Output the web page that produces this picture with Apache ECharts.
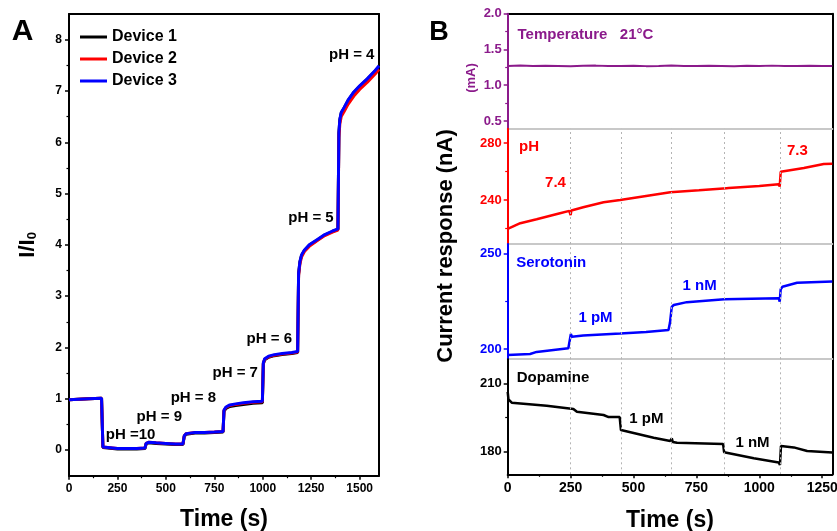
<!DOCTYPE html>
<html><head><meta charset="utf-8">
<script src="https://cdn.jsdelivr.net/npm/echarts@6/dist/echarts.min.js"></script>
<style>html,body{margin:0;padding:0;background:#fff}#c{width:837px;height:531px}</style>
</head><body><div id="c"></div>
<script>
const FONT = '"Liberation Sans", Arial, Helvetica, sans-serif';

// ---------- Panel A data ----------
const timeA = [0,100,168,175,185,250,300,350,392,398,410,450,500,550,588,595,605,650,700,750,795,800,810,830,860,900,950,998,1003,1010,1030,1060,1100,1150,1180,1185,1192,1200,1215,1240,1280,1320,1360,1388,1393,1398,1405,1420,1440,1470,1500,1540,1580,1600];
const device1 = [0.98,1.0,1.01,0.05,0.03, 0.02,0.02,0.02,0.03,0.12, 0.14,0.13,0.12,0.11,0.11, 0.27,0.31,0.33,0.33,0.34, 0.35,0.76,0.81,0.85,0.87, 0.89,0.91,0.92,1.68,1.76, 1.81,1.84,1.86,1.88,1.90, 3.43,3.67,3.79,3.89,3.99, 4.09,4.19,4.26,4.30,6.18, 6.44,6.57,6.67,6.81,6.97, 7.09,7.23,7.39,7.47];
const device2 = [0.98,1.0,1.01,0.06,0.04, 0.03,0.03,0.03,0.04,0.13, 0.15,0.14,0.13,0.12,0.12, 0.28,0.32,0.34,0.34,0.35, 0.36,0.77,0.83,0.87,0.89, 0.91,0.93,0.94,1.69,1.77, 1.82,1.85,1.87,1.89,1.91, 3.40,3.63,3.76,3.87,3.97, 4.08,4.18,4.25,4.29,6.10, 6.36,6.50,6.60,6.74,6.90, 7.03,7.17,7.33,7.42];
const device3 = [0.98,1.0,1.01,0.06,0.04, 0.03,0.03,0.03,0.04,0.13, 0.15,0.14,0.13,0.12,0.12, 0.28,0.32,0.34,0.34,0.35, 0.36,0.78,0.84,0.88,0.90, 0.92,0.94,0.95,1.70,1.78, 1.83,1.86,1.88,1.90,1.92, 3.45,3.68,3.80,3.90,4.00, 4.10,4.20,4.27,4.31,6.20, 6.45,6.58,6.68,6.82,6.98, 7.10,7.24,7.40,7.49];
const deviceNames = ['Device 1','Device 2','Device 3'];
const xTicksA = [0,250,500,750,1000,1250,1500];
const xMinorA = [125,375,625,875,1125,1375];
const yTicksA = [0,1,2,3,4,5,6,7,8];
const yMinorA = [0.5,1.5,2.5,3.5,4.5,5.5,6.5,7.5];
const annotTextA = ['pH =10','pH = 9','pH = 8','pH = 7','pH = 6','pH = 5','pH = 4'];
const annotTimeA = [318,466,642,858,1034,1249,1459];
const annotValA  = [0.29,0.65,1.02,1.50,2.16,4.53,7.70];

// ---------- Panel B data ----------
const tempT = [0,50,100,150,200,250,300,350,400,450,500,550,600,650,700,750,800,850,900,950,1000,1050,1100,1150,1200,1250,1290];
const tempV = [1.27,1.275,1.268,1.272,1.27,1.266,1.271,1.274,1.269,1.27,1.273,1.267,1.27,1.275,1.27,1.268,1.272,1.27,1.266,1.271,1.27,1.274,1.269,1.27,1.272,1.268,1.27];
const phT = [0,50,115,200,245,250,253,300,381,447,550,646,760,870,874,878,1000,1077,1081,1085,1090,1177,1256,1290];
const phV = [219.9,223.9,226.7,230.5,232.5,229.5,232.8,235,238.6,240.2,243,245.6,247,248.4,247.3,248.5,250,251.2,249.5,259.9,260.2,262.5,265.3,265.5];
const serT = [0,89,115,241,248,251,255,300,447,550,639,645,652,660,712,861,1077,1081,1085,1092,1150,1290];
const serV = [197.0,197.5,198.6,200.5,201,208,206.6,207.2,208.2,209,210.1,214,222.2,223.2,224.7,226.2,226.8,225.0,231.5,232.8,234.9,235.5];
const dopT = [0,3,16,155,261,275,381,401,445,450,455,580,646,652,656,673,856,860,864,978,1077,1082,1086,1090,1137,1190,1290];
const dopV = [206.3,203,201.5,200.2,198.7,197.5,196.1,195.2,195.2,189.5,188.8,186.1,184.7,185.9,184.3,183.9,183.4,179.8,179.3,177.1,175.3,174.2,182.5,182.9,181.9,180.3,179.7];
const eventT = [250,450,650,862,1085];
const xTicksB = [0,250,500,750,1000,1250];
const xMinorB = [125,375,625,875,1125];
const panelNames = ['Temperature','pH','Serotonin','Dopamine'];
const yTicksB = [[0.5,1.0,1.5,2.0],[240,280],[200,250],[180,210]];
const yMinorB = [[0.75,1.25,1.75],[220,260],[225],[195]];
const annotB = [
  {text:['Temperature   21°C'], t:[309], v:[1.71]},
  {text:['pH','7.4','7.3'], t:[85,190,1151], v:[277.6,252.4,274.8]},
  {text:['Serotonin','1 pM','1 nM'], t:[173,349,763], v:[245.4,216.3,233.4]},
  {text:['Dopamine','1 pM','1 nM'], t:[180,551,973], v:[212.6,194.6,184.1]}
];

// ---------- build option ----------
const pairs = (t, v) => t.map((x, i) => [x, v[i]]);
const colorsA = ['#000000','#ff0000','#0000ff'];
const colorsB = ['#8b1a8b','#ff0000','#0000ff','#000000'];
const rangesB = [[0.39,2.0],[209.3,290],[194.8,255.2],[170.1,220.6]];

const gridA = {left:69, top:14, width:310, height:461.7, outerBoundsMode:'none', containLabel:false};
const gbLeft = 507.7, gbWidth = 324.6, gbTop = 13.7, gbH = 115.15;
const grids = [gridA];
for (let k = 0; k < 4; k++) grids.push({left:gbLeft, width:gbWidth, top:gbTop + k*gbH, height:gbH, outerBoundsMode:'none', containLabel:false});

const lbl = (size, color) => ({fontFamily:FONT, fontWeight:'bold', fontSize:size, color:color});
const plain = v => String(v);

const xAxes = [
  {gridIndex:0, type:'value', min:0, max:1600, position:'bottom',
   name:'Time (s)', nameLocation:'middle', nameGap:32, nameTextStyle:lbl(23,'#000'),
   axisLine:{onZero:false, lineStyle:{color:'#000', width:2}},
   axisTick:{customValues:xTicksA, length:4, lineStyle:{color:'#000', width:1.5}},
   axisLabel:{customValues:xTicksA, margin:7, formatter:plain, ...lbl(12,'#000')},
   splitLine:{show:false}},
  {gridIndex:0, type:'value', min:0, max:1600, position:'bottom',
   axisLine:{show:false, onZero:false}, axisLabel:{show:false}, splitLine:{show:false},
   axisTick:{customValues:xMinorA, length:2.5, lineStyle:{color:'#000', width:1.2}}},
  {gridIndex:0, type:'value', min:0, max:1600, position:'top',
   axisLine:{onZero:false, lineStyle:{color:'#000', width:2}}, axisTick:{show:false}, axisLabel:{show:false}, splitLine:{show:false}}
];
const yAxes = [
  {gridIndex:0, type:'value', min:-0.5, max:8.5, position:'left',
   name:'{a|I/I}{b|0}', nameLocation:'middle', nameGap:30,
   nameTextStyle:{rich:{a:{fontFamily:FONT, fontWeight:'bold', fontSize:22, lineHeight:22, verticalAlign:'bottom', color:'#000'},
                        b:{fontFamily:FONT, fontWeight:'bold', fontSize:13, lineHeight:4, verticalAlign:'bottom', color:'#000'}}},
   axisLine:{onZero:false, lineStyle:{color:'#000', width:2}},
   axisTick:{customValues:yTicksA, length:4, lineStyle:{color:'#000', width:1.5}},
   axisLabel:{customValues:yTicksA, margin:7, formatter:plain, ...lbl(12,'#000')},
   splitLine:{show:false}},
  {gridIndex:0, type:'value', min:-0.5, max:8.5, position:'left',
   axisLine:{show:false, onZero:false}, axisLabel:{show:false}, splitLine:{show:false},
   axisTick:{customValues:yMinorA, length:2.5, lineStyle:{color:'#000', width:1.2}}},
  {gridIndex:0, type:'value', min:-0.5, max:8.5, position:'right',
   axisLine:{onZero:false, lineStyle:{color:'#000', width:2}}, axisTick:{show:false}, axisLabel:{show:false}, splitLine:{show:false}}
];

for (let k = 0; k < 4; k++) {
  const last = k === 3;
  xAxes.push({gridIndex:k+1, type:'value', min:0, max:1290, position:'bottom',
    name: last ? 'Time (s)' : '', nameLocation:'middle', nameGap:35, nameTextStyle:lbl(23,'#000'),
    axisLine:{onZero:false, lineStyle:{color: last ? '#000' : '#c8c8c8', width:2}},
    axisTick:{show:last, customValues:xTicksB, length:4, lineStyle:{color:'#000', width:1.5}},
    axisLabel:{show:last, customValues:xTicksB, margin:7, formatter:plain, ...lbl(14,'#000')},
    splitLine:{show:false}, z: last ? 5 : 3});
}
xAxes.push({gridIndex:1, type:'value', min:0, max:1290, position:'top',
  axisLine:{onZero:false, lineStyle:{color:'#000', width:2}}, axisTick:{show:false}, axisLabel:{show:false}, splitLine:{show:false}});
xAxes.push({gridIndex:4, type:'value', min:0, max:1290, position:'bottom',
  axisLine:{show:false, onZero:false}, axisLabel:{show:false}, splitLine:{show:false},
  axisTick:{customValues:xMinorB, length:2.5, lineStyle:{color:'#000', width:1.2}}});

for (let k = 0; k < 4; k++) {
  const c = colorsB[k];
  const [mn, mx] = rangesB[k];
  yAxes.push({gridIndex:k+1, type:'value', min:mn, max:mx, position:'left',
    axisLine:{onZero:false, lineStyle:{color:c, width:2}},
    axisTick:{customValues:yTicksB[k], length:4, lineStyle:{color:c, width:1.5}},
    axisLabel:{customValues:yTicksB[k], margin:6, ...lbl(13,c), formatter: k === 0 ? (v => Number(v).toFixed(1)) : plain},
    splitLine:{show:false}, z:6});
  yAxes.push({gridIndex:k+1, type:'value', min:mn, max:mx, position:'left',
    axisLine:{show:false, onZero:false}, axisLabel:{show:false}, splitLine:{show:false},
    axisTick:{customValues:yMinorB[k], length:2.5, lineStyle:{color:c, width:1.2}}});
  yAxes.push({gridIndex:k+1, type:'value', min:mn, max:mx, position:'right',
    axisLine:{onZero:false, lineStyle:{color:'#000', width:2}}, axisTick:{show:false}, axisLabel:{show:false}, splitLine:{show:false}});
}

const series = [];
const devs = [device1, device2, device3];
devs.forEach((d, i) => series.push({
  name:deviceNames[i], type:'line', xAxisIndex:0, yAxisIndex:0, data:pairs(timeA, d),
  showSymbol:false, symbol:'none', lineStyle:{width:3, color:colorsA[i]}, itemStyle:{color:colorsA[i]}, z:2+i, silent:true
}));

const bT = [tempT, phT, serT, dopT];
const bV = [tempV, phV, serV, dopV];
for (let k = 0; k < 4; k++) {
  const s = {name:panelNames[k], type:'line', xAxisIndex:3+k, yAxisIndex:3+3*k, data:pairs(bT[k], bV[k]),
    showSymbol:false, symbol:'none', lineStyle:{width: k === 0 ? 2 : 2.5, color:colorsB[k]}, silent:true, z:4};
  if (k > 0) {
    s.markLine = {silent:true, symbol:'none', label:{show:false}, animation:false,
      lineStyle:{type:[2,3], color:'#b4b4b4', width:1}, data:eventT.map(t => ({xAxis:t}))};
  }
  series.push(s);
}

const option = {
  animation:false,
  backgroundColor:'#fff',
  textStyle:{fontFamily:FONT},
  grid:grids, xAxis:xAxes, yAxis:yAxes, series:series,
  legend:{data:deviceNames, orient:'vertical', left:80, top:29, padding:0, icon:'rect', itemWidth:27, itemHeight:3, itemGap:6,
    selectedMode:false, textStyle:{...lbl(16,'#000'), lineHeight:16}}
};
const chart = echarts.init(document.getElementById('c'), null, {renderer:'canvas'});
chart.setOption(option);

// text annotations anchored to data coordinates
const graphics = [
  {type:'text', x:22.5, y:32, style:{text:'A', font:'bold 30px ' + FONT, fill:'#000', align:'center', verticalAlign:'middle'}},
  {type:'text', x:439, y:33, style:{text:'B', font:'bold 27px ' + FONT, fill:'#000', align:'center', verticalAlign:'middle'}},
  {type:'text', x:446, y:246, rotation:Math.PI/2, style:{text:'Current response (nA)', font:'bold 22px ' + FONT, fill:'#000', align:'center', verticalAlign:'middle'}},
  {type:'text', x:471, y:78, rotation:Math.PI/2, style:{text:'(mA)', font:'bold 13px ' + FONT, fill:colorsB[0], align:'center', verticalAlign:'middle'}}
];
annotTextA.forEach((s, i) => {
  const p = chart.convertToPixel({xAxisIndex:0, yAxisIndex:0}, [annotTimeA[i], annotValA[i]]);
  graphics.push({type:'text', x:p[0], y:p[1], z:20, style:{text:s, font:'bold 15px ' + FONT, fill:'#000', align:'center', verticalAlign:'middle'}});
});
annotB.forEach((a, k) => {
  a.text.forEach((s, i) => {
    const p = chart.convertToPixel({xAxisIndex:3+k, yAxisIndex:3+3*k}, [a.t[i], a.v[i]]);
    graphics.push({type:'text', x:p[0], y:p[1], z:20, style:{text:s, font:'bold 15px ' + FONT, fill:colorsB[k], align:'center', verticalAlign:'middle'}});
  });
});
chart.setOption({graphic:graphics});
</script></body></html>
